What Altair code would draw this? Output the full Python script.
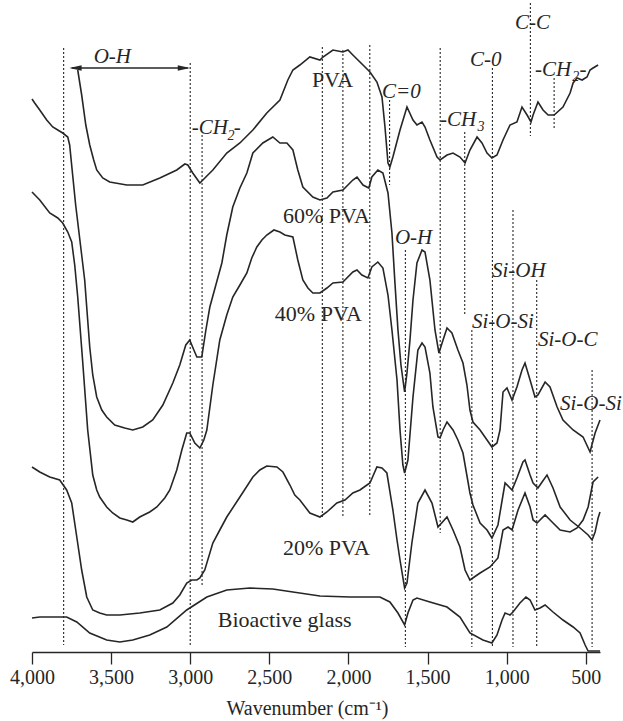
import altair as alt
import pandas as pd

# FTIR spectra: wavenumber (cm-1) and transmittance (a.u., vertically offset)
pva_wn = [3711, 3686, 3660, 3635, 3610, 3591, 3553, 3509, 3401, 3300, 3192, 3085, 3034, 3015,
          2984, 2939, 2920, 2857, 2769, 2686, 2604, 2516, 2433, 2383, 2351, 2307, 2244, 2180,
          2161, 2098, 2035, 2003, 1972, 1908, 1864, 1820, 1788, 1769, 1750, 1738, 1719, 1674,
          1630, 1592, 1567, 1535, 1516, 1485, 1440, 1421, 1377, 1339, 1295, 1263, 1232, 1187,
          1156, 1124, 1093, 1061, 1023, 979, 935, 903, 871, 846, 833, 802, 770, 738, 700, 644,
          599, 580, 555, 523, 492, 473, 454, 422]
pva_t = [116.4, 111.4, 105.4, 101.4, 98.4, 96.4, 94.8, 94.0, 93.4, 93.4, 94.8, 96.4, 97.6, 97.4,
         95.8, 93.8, 94.4, 96.4, 99.8, 101.8, 104.4, 107.8, 110.4, 114.4, 116.4, 117.4, 119.0, 118.4,
         119.0, 120.4, 120.0, 120.4, 119.4, 117.4, 116.0, 114.0, 111.0, 105.0, 97.8, 97.0, 99.0, 104.4,
         109.0, 106.4, 105.4, 106.0, 105.0, 102.4, 99.0, 98.4, 99.4, 99.8, 99.0, 97.8, 100.4, 103.0,
         101.8, 99.8, 98.8, 99.4, 102.4, 105.4, 106.0, 109.0, 107.4, 106.0, 107.4, 110.0, 108.4, 107.4,
         107.4, 109.0, 111.8, 113.8, 114.8, 114.4, 115.0, 116.4, 116.8, 117.4]

pva60_wn = [4000, 3983, 3951, 3907, 3869, 3837, 3806, 3774, 3762, 3743, 3724, 3705, 3686, 3667,
            3648, 3635, 3616, 3591, 3559, 3528, 3477, 3414, 3363, 3300, 3237, 3173, 3110, 3066,
            3028, 3003, 2977, 2958, 2927, 2901, 2876, 2838, 2800, 2769, 2731, 2686, 2642, 2604,
            2541, 2478, 2433, 2389, 2351, 2320, 2288, 2225, 2180, 2136, 2098, 2035, 1972, 1946,
            1908, 1871, 1852, 1814, 1782, 1750, 1725, 1706, 1687, 1668, 1645, 1630, 1611, 1592,
            1567, 1535, 1516, 1485, 1453, 1428, 1402, 1377, 1346, 1308, 1276, 1251, 1232, 1213,
            1168, 1124, 1093, 1061, 1042, 1023, 998, 966, 935, 903, 884, 852, 821, 802, 757, 726,
            681, 644, 580, 517, 473, 441, 410]
pva60_t = [110.6, 109.8, 108.4, 106.4, 105.0, 104.4, 103.8, 103.0, 101.4, 95.4, 89.4, 84.4, 79.4, 74.4,
           66.4, 61.0, 55.4, 51.0, 48.4, 47.0, 45.4, 44.8, 44.4, 45.0, 46.4, 49.4, 53.8, 57.4,
           61.4, 62.4, 60.4, 59.0, 59.0, 64.4, 69.0, 73.4, 77.8, 83.4, 89.0, 92.8, 95.8, 99.8,
           101.8, 103.0, 101.8, 101.8, 100.4, 96.4, 93.0, 91.0, 90.4, 90.8, 92.0, 92.4, 94.4, 95.0,
           93.4, 92.8, 95.0, 96.4, 95.8, 91.8, 83.8, 73.8, 64.4, 57.4, 52.0, 55.8, 62.4, 70.4,
           77.8, 80.4, 80.0, 74.4, 64.4, 59.8, 62.4, 64.8, 63.8, 60.4, 57.8, 53.4, 48.4, 46.0,
           44.4, 42.4, 41.0, 41.8, 44.4, 52.0, 52.8, 50.4, 53.0, 56.4, 57.8, 54.4, 51.0, 51.4, 54.0, 53.0,
           49.0, 46.4, 44.4, 43.0, 40.0, 43.8, 46.4]

pva40_wn = [4000, 3951, 3888, 3837, 3806, 3774, 3749, 3730, 3711, 3679, 3648, 3616, 3591, 3572,
            3528, 3490, 3445, 3401, 3363, 3319, 3256, 3211, 3161, 3129, 3085, 3053, 3022, 3003,
            2971, 2939, 2914, 2895, 2857, 2813, 2769, 2731, 2686, 2642, 2611, 2579, 2547, 2516,
            2471, 2433, 2402, 2351, 2320, 2288, 2256, 2225, 2180, 2136, 2098, 2035, 1972, 1946,
            1915, 1877, 1852, 1814, 1782, 1750, 1725, 1693, 1674, 1656, 1645, 1624, 1592, 1561,
            1535, 1516, 1485, 1466, 1434, 1421, 1402, 1377, 1339, 1308, 1276, 1232, 1213, 1168,
            1124, 1093, 1055, 1023, 1010, 966, 935, 897, 884, 852, 833, 802, 776, 745, 707, 662,
            599, 536, 485, 460, 441, 422, 410]
pva40_t = [92.0, 90.4, 87.8, 86.8, 85.8, 84.0, 82.0, 77.4, 71.0, 57.8, 44.4, 35.4, 32.4, 31.0,
           29.0, 27.8, 26.8, 26.4, 26.0, 27.0, 28.0, 29.0, 30.8, 32.4, 36.4, 40.4, 43.8, 43.8,
           41.8, 40.8, 42.4, 44.4, 53.4, 62.4, 67.4, 71.0, 73.4, 75.8, 78.8, 81.0, 82.4, 83.4,
           84.4, 84.0, 83.4, 83.0, 78.4, 74.4, 72.8, 71.8, 71.8, 72.8, 73.8, 74.0, 76.0, 76.4,
           75.4, 74.8, 77.0, 78.0, 76.8, 71.4, 64.4, 54.4, 44.4, 37.4, 35.8, 38.4, 51.0, 60.4,
           61.8, 61.0, 55.8, 49.0, 43.0, 42.8, 44.4, 46.0, 44.4, 42.4, 39.8, 31.8, 29.4, 25.8,
           24.4, 22.8, 25.4, 31.4, 33.8, 32.4, 34.8, 38.0, 38.4, 35.4, 33.8, 32.8, 34.0, 35.4, 32.8, 29.0,
           26.4, 24.8, 23.4, 22.4, 24.0, 26.8, 28.0]

pva20_wn = [4000, 3951, 3888, 3825, 3781, 3749, 3717, 3686, 3654, 3616, 3572, 3528, 3445, 3319,
            3192, 3110, 3066, 3022, 2990, 2958, 2939, 2908, 2857, 2813, 2769, 2686, 2604, 2560,
            2516, 2452, 2414, 2370, 2339, 2307, 2244, 2180, 2136, 2073, 2022, 1972, 1927, 1883,
            1864, 1820, 1788, 1757, 1719, 1693, 1674, 1645, 1630, 1599, 1561, 1516, 1472, 1434,
            1377, 1339, 1295, 1263, 1232, 1168, 1105, 1055, 1023, 991, 966, 928, 884, 852, 833,
            808, 757, 713, 662, 599, 555, 517, 485, 454, 422]
pva20_t = [37.0, 36.0, 35.0, 34.4, 32.4, 29.8, 23.0, 16.4, 11.0, 8.4, 7.8, 7.4, 7.4, 7.8,
           8.4, 9.8, 11.4, 13.8, 14.4, 14.4, 14.8, 16.4, 21.8, 24.4, 27.0, 31.0, 35.0, 36.4,
           37.2, 37.0, 36.0, 33.4, 31.4, 30.4, 27.8, 27.0, 28.0, 29.8, 30.4, 31.8, 32.4, 33.4,
           33.8, 37.0, 36.8, 35.8, 28.4, 22.4, 18.4, 12.8, 13.8, 21.8, 29.8, 32.4, 29.8, 25.0,
           27.0, 24.4, 21.0, 16.4, 14.4, 15.8, 17.0, 18.8, 24.4, 25.0, 24.4, 28.4, 31.8, 29.0, 26.4,
           25.8, 27.4, 26.0, 24.4, 24.0, 24.8, 26.4, 29.0, 34.0, 35.0]

glass_wn = [4000, 3951, 3781, 3717, 3635, 3528, 3445, 3363, 3256, 3148, 3022, 2895, 2769, 2623,
            2478, 2351, 2180, 1991, 1801, 1738, 1687, 1645, 1624, 1592, 1567, 1485, 1377, 1295,
            1232, 1150, 1093, 1061, 1029, 1010, 979, 960, 916, 878, 852, 821, 789, 757, 707, 644,
            580, 536, 504, 485, 410]
glass_t = [6.8, 7.0, 7.0, 6.0, 3.8, 2.4, 2.0, 2.4, 3.4, 5.0, 8.4, 11.0, 12.4, 12.8,
           12.6, 12.0, 11.2, 11.0, 11.0, 10.0, 7.8, 5.4, 7.8, 10.4, 10.8, 10.0, 9.0, 7.0,
           3.8, 2.4, 1.8, 3.4, 6.4, 7.8, 7.4, 8.0, 9.8, 11.0, 10.4, 8.4, 8.8, 9.4, 8.0, 6.4,
           5.0, 3.8, 1.4, 0.2, 0.2]

# dotted band markers: position, upper and lower ends
marker_wn = [3800, 3000, 2925, 2165, 2035, 1865, 1740, 1640, 1420, 1265, 1220, 1090, 960, 850, 810, 700, 460]
marker_top = [120.8, 117.8, 103.4, 121.0, 120.4, 121.4, 110.4, 80.4, 120.8, 104.0, 64.4, 116.8, 88.4, 129.8, 74.4, 114.8, 56.4]
marker_bottom = [1.4, 1.0, 13.4, 27.0, 27.2, 27.0, 93.4, 1.0, 23.8, 67.4, 1.0, 1.0, 1.0, 103.2, 1.0, 104.8, 1.0]

# sample names, drawn upright
sample_text = ["PVA", "60% PVA", "40% PVA", "20% PVA", "Bioactive glass"]
sample_wn = [2231, 2414, 2465, 2414, 2826]
sample_t = [114.4, 87.2, 67.6, 20.8, 6.4]

# band assignments, drawn in italics
band_text = ["O-H", "-CH", "-", "C=0", "-CH", "C-0", "C-C", "-CH", "-", "O-H",
             "Si-OH", "Si-O-Si", "Si-O-C", "Si-O-Si"]
band_wn = [3610, 2990, 2725, 1788, 1421, 1232, 947, 821, 540, 1706,
           1093, 1219, 802, 663]
band_t = [119.0, 104.8, 104.8, 112.0, 106.4, 118.4, 125.8, 116.4, 116.4, 82.8,
          76.2, 66.0, 62.4, 49.6]

# subscripts of the CH2 / CH3 groups
sub_text = ["2", "3", "2"]
sub_wn = [2765, 1185, 585]
sub_t = [103.2, 105.0, 115.0]

# O-H stretching range arrow
arrow_from, arrow_to, arrow_t = 3749, 3015, 116.8
arrow_heads_wn = [3725, 3040]

INK = "#262626"
FONT = "Liberation Serif"

rows = []
for name, wn, t in [("PVA", pva_wn, pva_t), ("60% PVA", pva60_wn, pva60_t),
                    ("40% PVA", pva40_wn, pva40_t), ("20% PVA", pva20_wn, pva20_t),
                    ("Bioactive glass", glass_wn, glass_t)]:
    for w, v in zip(wn, t):
        rows.append({"sample": name, "wn": w, "t": v})
spectra = pd.DataFrame(rows)

markers = pd.DataFrame({"wn": marker_wn, "t": marker_top, "t2": marker_bottom})
samples = pd.DataFrame({"wn": sample_wn, "t": sample_t, "label": sample_text})
bands = pd.DataFrame({"wn": band_wn, "t": band_t, "label": band_text})
subs = pd.DataFrame({"wn": sub_wn, "t": sub_t, "label": sub_text})
arrow = pd.DataFrame({"wn": [arrow_from], "wn2": [arrow_to], "t": [arrow_t]})
heads = pd.DataFrame({"wn": arrow_heads_wn, "t": [arrow_t, arrow_t], "side": ["left", "right"]})

x_scale = alt.Scale(domain=[410, 4000], reverse=True, nice=False, zero=False)
y_scale = alt.Scale(domain=[0, 130], nice=False, zero=False)

x_axis = alt.Axis(
    values=[4000, 3500, 3000, 2500, 2000, 1500, 1000, 500], format=",d",
    labelFont=FONT, labelFontSize=20, labelColor=INK, labelPadding=3,
    labelFlush=False, labelOverlap=False,
    tickSize=12, tickColor=INK, tickWidth=1.3, domainColor=INK, domainWidth=1.3,
    grid=False, titleFont=FONT, titleFontSize=20, titleFontWeight="normal",
    titleColor=INK, titlePadding=11, titleX=275,
)
X = alt.X("wn:Q", scale=x_scale, axis=x_axis, title="Wavenumber (cm⁻¹)")
Y = alt.Y("t:Q", scale=y_scale, axis=None)

lines = alt.Chart(spectra).mark_line(color=INK, strokeWidth=1.6).encode(
    x=X, y=Y, detail="sample:N"
)
rules = alt.Chart(markers).mark_rule(color=INK, strokeWidth=1.1, strokeDash=[2, 2]).encode(
    x=X, y=Y, y2="t2:Q"
)
arrow_line = alt.Chart(arrow).mark_rule(color=INK, strokeWidth=1.4).encode(
    x=X, x2="wn2:Q", y=Y
)
head_left = alt.Chart(heads[heads.side == "left"]).mark_point(
    shape="M-1,0L1,-0.45L1,0.45Z", filled=True, size=150, color=INK, opacity=1
).encode(x=X, y=Y)
head_right = alt.Chart(heads[heads.side == "right"]).mark_point(
    shape="M1,0L-1,-0.45L-1,0.45Z", filled=True, size=150, color=INK, opacity=1
).encode(x=X, y=Y)
sample_labels = alt.Chart(samples).mark_text(
    font=FONT, fontSize=22, color=INK, align="left", baseline="middle"
).encode(x=X, y=Y, text="label:N")
band_labels = alt.Chart(bands).mark_text(
    font=FONT, fontSize=21, fontStyle="italic", color=INK, align="left", baseline="middle"
).encode(x=X, y=Y, text="label:N")
sub_labels = alt.Chart(subs).mark_text(
    font=FONT, fontSize=14, fontStyle="italic", color=INK, align="left", baseline="middle"
).encode(x=X, y=Y, text="label:N")

chart = alt.layer(
    rules, lines, arrow_line, head_left, head_right, sample_labels, band_labels, sub_labels
).properties(
    width=568, height=650,
    padding={"left": 32, "top": 2, "right": 23, "bottom": 69},
    autosize=alt.AutoSizeParams(type="none"),
).configure_view(stroke=None)

chart.save("out.html", embed_options={"renderer": "svg", "actions": False})
